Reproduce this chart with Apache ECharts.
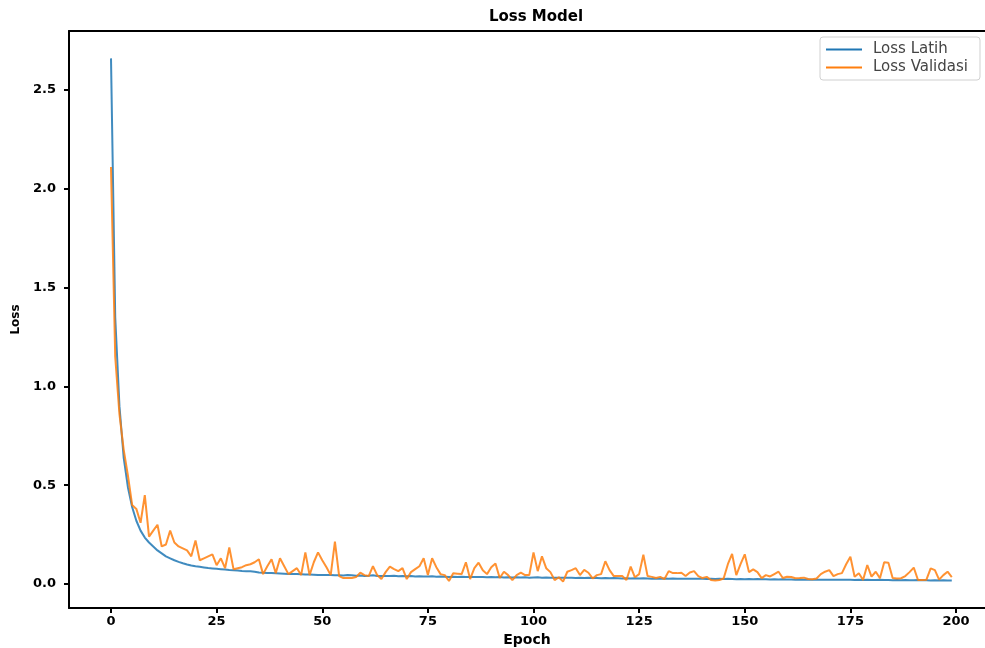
<!DOCTYPE html>
<html>
<head>
<meta charset="utf-8">
<title>Loss Model</title>
<script src="https://cdn.jsdelivr.net/npm/echarts@6/dist/echarts.min.js"></script>
<style>
  html, body { margin: 0; padding: 0; background: #fff; }
  #chart { width: 985px; height: 648px; }
</style>
</head>
<body>
<div id="chart"></div>
<script>
// epochs 0..199
const epochs = Array.from({ length: 200 }, (_, i) => i)

const lossLatih = [
  2.66, 1.35, 0.90, 0.64, 0.49, 0.39, 0.32, 0.27, 0.235, 0.21,
  0.19, 0.17, 0.155, 0.14, 0.13, 0.12, 0.112, 0.105, 0.099, 0.094,
  0.09, 0.087, 0.084, 0.081, 0.079, 0.077, 0.075, 0.073, 0.071, 0.07,
  0.068, 0.066, 0.065, 0.064, 0.062, 0.058, 0.057, 0.056, 0.055, 0.054,
  0.053, 0.052, 0.051, 0.05, 0.05, 0.049, 0.048, 0.048, 0.047, 0.046,
  0.046, 0.045, 0.045, 0.044, 0.044, 0.043, 0.046, 0.044, 0.042, 0.043,
  0.041, 0.042, 0.044, 0.041, 0.040, 0.041, 0.040, 0.042, 0.039, 0.040,
  0.039, 0.041, 0.038, 0.039, 0.038, 0.038, 0.039, 0.037, 0.038, 0.037,
  0.036, 0.037, 0.036, 0.037, 0.035, 0.036, 0.035, 0.036, 0.035, 0.034,
  0.035, 0.034, 0.035, 0.033, 0.034, 0.033, 0.034, 0.033, 0.034, 0.032,
  0.033, 0.034, 0.032, 0.033, 0.032, 0.031, 0.032, 0.031, 0.032, 0.031,
  0.030, 0.031, 0.030, 0.031, 0.030, 0.030, 0.029, 0.030, 0.029, 0.030,
  0.029, 0.028, 0.029, 0.028, 0.029, 0.028, 0.029, 0.028, 0.027, 0.028,
  0.027, 0.028, 0.027, 0.028, 0.027, 0.027, 0.026, 0.027, 0.026, 0.027,
  0.026, 0.025, 0.026, 0.025, 0.026, 0.025, 0.026, 0.025, 0.024, 0.025,
  0.024, 0.025, 0.024, 0.025, 0.024, 0.024, 0.023, 0.024, 0.023, 0.024,
  0.023, 0.023, 0.022, 0.023, 0.022, 0.023, 0.022, 0.022, 0.021, 0.022,
  0.021, 0.022, 0.021, 0.021, 0.022, 0.021, 0.020, 0.021, 0.020, 0.021,
  0.020, 0.020, 0.021, 0.020, 0.020, 0.019, 0.020, 0.019, 0.020, 0.019,
  0.019, 0.020, 0.019, 0.019, 0.018, 0.019, 0.018, 0.019, 0.018, 0.018
]

const lossValidasi = [
  2.11, 1.15, 0.86, 0.68, 0.55, 0.40, 0.38, 0.31, 0.45, 0.24,
  0.27, 0.30, 0.19, 0.20, 0.27, 0.21, 0.19, 0.18, 0.17, 0.14,
  0.22, 0.12, 0.13, 0.14, 0.15, 0.095, 0.13, 0.08, 0.185, 0.075,
  0.08, 0.085, 0.095, 0.10, 0.11, 0.125, 0.05, 0.09, 0.125, 0.055,
  0.13, 0.09, 0.05, 0.065, 0.08, 0.045, 0.16, 0.045, 0.11, 0.16,
  0.12, 0.085, 0.045, 0.215, 0.04, 0.03, 0.03, 0.03, 0.035, 0.057,
  0.045, 0.04, 0.09, 0.045, 0.025, 0.06, 0.088, 0.075, 0.065, 0.08,
  0.025, 0.06, 0.075, 0.09, 0.13, 0.045, 0.13, 0.085, 0.05, 0.045,
  0.015, 0.054, 0.052, 0.05, 0.11, 0.025, 0.08, 0.108, 0.07, 0.05,
  0.085, 0.104, 0.03, 0.062, 0.045, 0.02, 0.045, 0.057, 0.045, 0.045,
  0.16, 0.065, 0.14, 0.08, 0.06, 0.02, 0.034, 0.012, 0.062, 0.07,
  0.08, 0.045, 0.071, 0.057, 0.028, 0.045, 0.05, 0.115, 0.07, 0.04,
  0.04, 0.04, 0.02, 0.088, 0.034, 0.05, 0.148, 0.04, 0.036, 0.03,
  0.036, 0.025, 0.065, 0.055, 0.055, 0.057, 0.04, 0.058, 0.065, 0.04,
  0.03, 0.036, 0.02, 0.018, 0.02, 0.028, 0.1, 0.152, 0.045, 0.1,
  0.15, 0.06, 0.074, 0.06, 0.03, 0.045, 0.038, 0.05, 0.062, 0.03,
  0.037, 0.035, 0.029, 0.03, 0.032, 0.025, 0.024, 0.028, 0.05, 0.062,
  0.07, 0.04, 0.05, 0.055, 0.1, 0.138, 0.037, 0.054, 0.02, 0.096,
  0.037, 0.062, 0.029, 0.11, 0.108, 0.03, 0.028, 0.029, 0.04, 0.06,
  0.083, 0.02, 0.02, 0.022, 0.079, 0.07, 0.022, 0.045, 0.062, 0.035
]

const xTicks = [0, 25, 50, 75, 100, 125, 150, 175, 200]
const yTicks = [0, 0.5, 1.0, 1.5, 2.0, 2.5]

const chart = echarts.init(document.getElementById('chart'), null, { renderer: 'canvas' })

const font = 'DejaVu Sans'
const spine = { show: true, onZero: false, lineStyle: { color: '#000', width: 2 } }
const labelStyle = { fontFamily: font, fontWeight: 'bold', fontSize: 13, color: '#000' }

// the original figure is cropped on the right, so the plot runs off the edge
const option = {
  animation: false,
  backgroundColor: '#fff',
  title: {
    text: 'Loss Model',
    left: 531,
    top: 5,
    textAlign: 'center',
    textStyle: { fontFamily: font, fontWeight: 'bold', fontSize: 15, color: '#000' }
  },
  legend: {
    orient: 'vertical',
    left: 820,
    top: 37,
    padding: [5, 12, 5, 6],
    itemGap: 3,
    itemWidth: 36,
    itemHeight: 2,
    icon: 'rect',
    borderColor: '#d0d0d0',
    borderWidth: 1,
    borderRadius: 3,
    textStyle: { fontFamily: font, fontSize: 15, color: '#444', padding: [0, 0, 0, 6] },
    data: ['Loss Latih', 'Loss Validasi']
  },
  grid: {
    left: 69,
    top: 31,
    right: 0,
    bottom: 40,
    show: false,
    containLabel: false,
    outerBoundsMode: 'none'
  },
  xAxis: [
    {
      type: 'value',
      min: -9.94,
      max: 206.86,
      name: 'Epoch',
      nameLocation: 'middle',
      nameGap: 24,
      nameTextStyle: { fontFamily: font, fontWeight: 'bold', fontSize: 14, color: '#000' },
      axisLine: spine,
      axisTick: { show: true, length: 5, customValues: xTicks, lineStyle: { color: '#000', width: 2 } },
      axisLabel: Object.assign({ customValues: xTicks, margin: 7 }, labelStyle),
      splitLine: { show: false }
    },
    {
      // top spine only
      type: 'value',
      position: 'top',
      min: -9.94,
      max: 206.86,
      axisLine: spine,
      axisTick: { show: false },
      axisLabel: { show: false },
      splitLine: { show: false }
    }
  ],
  yAxis: {
    type: 'value',
    min: -0.1215,
    max: 2.7985,
    name: 'Loss',
    nameLocation: 'middle',
    nameGap: 47,
    nameRotate: 90,
    nameTextStyle: { fontFamily: font, fontWeight: 'bold', fontSize: 12, color: '#000' },
    axisLine: spine,
    axisTick: { show: true, length: 5, customValues: yTicks, lineStyle: { color: '#000', width: 2 } },
    axisLabel: Object.assign({
      customValues: yTicks,
      margin: 13,
      formatter: (v) => v.toFixed(1)
    }, labelStyle),
    splitLine: { show: false }
  },
  series: [
    {
      name: 'Loss Latih',
      type: 'line',
      data: epochs.map((e, i) => [e, lossLatih[i]]),
      showSymbol: false,
      symbol: 'none',
      lineStyle: { color: '#1f77b4', width: 2, opacity: 0.85 },
      itemStyle: { color: '#1f77b4' },
      z: 2
    },
    {
      name: 'Loss Validasi',
      type: 'line',
      data: epochs.map((e, i) => [e, lossValidasi[i]]),
      showSymbol: false,
      symbol: 'none',
      lineStyle: { color: '#ff7f0e', width: 2, opacity: 0.85 },
      itemStyle: { color: '#ff7f0e' },
      z: 3
    }
  ]
}

chart.setOption(option)
</script>
</body>
</html>
